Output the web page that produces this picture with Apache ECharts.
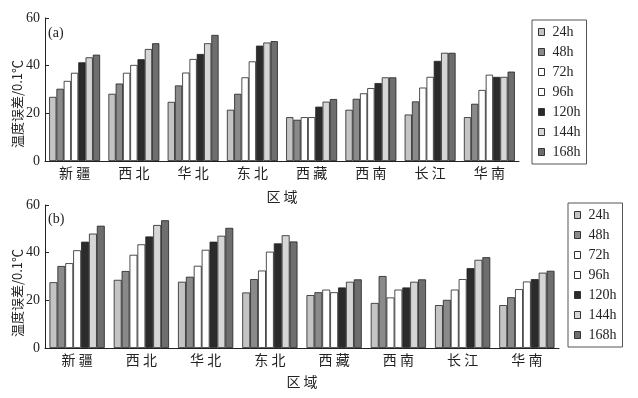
<!DOCTYPE html>
<html>
<head>
<meta charset="utf-8">
<script src="https://cdn.jsdelivr.net/npm/echarts@6/dist/echarts.min.js"></script>
<style>
  html, body { margin: 0; padding: 0; background: #fff; }
  #chart { width: 638px; height: 398px; }
</style>
</head>
<body>
<div id="chart"></div>
<script>
// 区域
const categories = ['新 疆', '西 北', '华 北', '东 北', '西 藏', '西 南', '长 江', '华 南']
const seriesNames = ['24h', '48h', '72h', '96h', '120h', '144h', '168h']
const yTicks = [0, 20, 40, 60]

// (a) 温度误差
const a24 = [26.9, 28.2, 24.8, 21.5, 18.4, 21.5, 19.5, 18.4]
const a48 = [30.3, 32.5, 31.7, 28.2, 17.3, 26.1, 25.0, 24.0]
const a72 = [33.6, 37.0, 37.1, 35.1, 18.4, 28.4, 30.8, 29.8]
const a96 = [37.0, 40.3, 42.8, 41.8, 18.4, 30.6, 35.3, 36.2]
const a120 = [41.4, 42.7, 44.9, 48.4, 22.8, 32.7, 42.0, 35.3]
const a144 = [43.5, 47.0, 49.4, 49.7, 24.9, 35.1, 45.4, 35.3]
const a168 = [44.6, 49.4, 52.9, 50.3, 26.0, 35.1, 45.4, 37.5]

// (b) 温度误差
const b24 = [27.6, 28.6, 27.8, 23.3, 22.2, 18.9, 18.0, 18.0]
const b48 = [34.4, 32.3, 29.9, 28.9, 23.4, 30.2, 20.2, 21.3]
const b72 = [35.6, 39.1, 34.5, 32.5, 24.5, 21.2, 24.5, 24.7]
const b96 = [41.0, 43.5, 41.2, 40.4, 23.4, 24.5, 28.9, 27.9]
const b120 = [44.6, 46.8, 44.6, 43.9, 25.4, 25.4, 33.5, 28.9]
const b144 = [48.0, 51.6, 47.1, 47.3, 27.8, 27.8, 37.0, 31.6]
const b168 = [51.3, 53.6, 50.4, 44.7, 28.8, 28.8, 38.1, 32.4]

const dataA = [a24, a48, a72, a96, a120, a144, a168]
const dataB = [b24, b48, b72, b96, b120, b144, b168]
const fills = ['#c4c4c4', '#8a8a8a', '#ffffff', '#ffffff', '#2b2b2b', '#d6d6d6', '#6e6e6e']

const serif = '"Liberation Serif", "DejaVu Serif", "Noto Sans CJK SC", serif'
const cjk = '"Noto Sans CJK SC", sans-serif'

function xAxisOf (idx) {
  return {
    type: 'category',
    gridIndex: idx,
    data: categories,
    name: '区 域',
    nameLocation: 'middle',
    nameGap: idx === 0 ? 29 : 27,
    nameTextStyle: { fontFamily: cjk, fontSize: 14, color: '#222' },
    axisLine: { lineStyle: { color: '#222', width: 1 } },
    axisTick: { inside: true, length: 5, lineStyle: { color: '#555' } },
    axisLabel: { fontFamily: cjk, fontSize: 14, color: '#222', margin: 5 }
  }
}

function yAxisOf (idx) {
  return {
    type: 'value',
    gridIndex: idx,
    min: 0,
    max: 60,
    interval: 20,
    axisLine: { show: true, lineStyle: { color: '#222', width: 1 } },
    axisTick: { show: true, inside: true, length: 4, lineStyle: { color: '#222' } },
    axisLabel: { fontFamily: serif, fontSize: 14, color: '#222', margin: 5,
      formatter: v => yTicks.indexOf(v) >= 0 ? String(v) : '' },
    splitLine: { show: false }
  }
}

function legendOf (left, top) {
  return {
    orient: 'vertical',
    left: left,
    top: top,
    data: seriesNames,
    icon: 'rect',
    itemWidth: 6,
    itemHeight: 7,
    itemGap: 6,
    itemStyle: { borderColor: '#333', borderWidth: 1 },
    borderColor: '#555',
    borderWidth: 1,
    padding: [5, 6, 5, 6],
    textStyle: { fontFamily: serif, fontSize: 14, color: '#222', lineHeight: 14, padding: [0, 0, 0, 3] }
  }
}

let series = []
;[dataA, dataB].forEach((set, g) => {
  set.forEach((vals, i) => {
    series.push({
      name: seriesNames[i],
      type: 'bar',
      xAxisIndex: g,
      yAxisIndex: g,
      data: vals,
      barGap: 0,
      barCategoryGap: '14%',
      itemStyle: { color: fills[i], borderColor: '#222', borderWidth: 0.8 }
    })
  })
})

let myChart = echarts.init(document.getElementById('chart'), null, { renderer: 'canvas' })
myChart.setOption({
  backgroundColor: '#fff',
  animation: false,
  grid: [
    { left: 45, top: 18, width: 474, height: 143 },
    { left: 45, top: 205, width: 514, height: 143 }
  ],
  xAxis: [xAxisOf(0), xAxisOf(1)],
  yAxis: [yAxisOf(0), yAxisOf(1)],
  legend: [legendOf(532, 20), legendOf(568, 203)],
  graphic: [
    { type: 'text', x: 48, y: 26, style: { text: '(a)', font: '14px ' + serif, fill: '#222' } },
    { type: 'text', x: 48, y: 212, style: { text: '(b)', font: '14px ' + serif, fill: '#222' } },
    { type: 'text', x: 17, y: 104, rotation: Math.PI / 2,
      style: { text: '温度误差/0.1℃', font: '13px ' + cjk, fill: '#222', align: 'center', verticalAlign: 'middle' } },
    { type: 'text', x: 17, y: 293, rotation: Math.PI / 2,
      style: { text: '温度误差/0.1℃', font: '13px ' + cjk, fill: '#222', align: 'center', verticalAlign: 'middle' } }
  ],
  series: series
})
</script>
</body>
</html>
